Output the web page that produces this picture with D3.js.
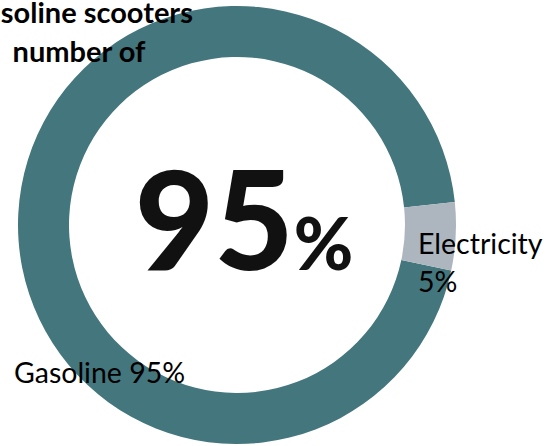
<!DOCTYPE html>
<html>
<head>
<meta charset="utf-8">
<script src="https://d3js.org/d3.v7.min.js"></script>
<style>
body { margin: 0; background: #fff; }
svg { display: block; font-family: Lato, "Open Sans", sans-serif; }
</style>
</head>
<body>
<svg id="chart" width="549" height="446"></svg>
<script>
// data
const categories = ["Gasoline", "Electricity"];
const values = [95, 5];
const titleLines = ["Gasoline scooters", "number of"];
const bigValue = "95";

const svg = d3.select("#chart");

// ring geometry
const cx = 237, cy = 225;
const outerR = 219, innerR = 168;

const color = d3.scaleOrdinal()
  .domain(categories)
  .range(["#43767d", "#adb5bf"]);

// gasoline first, starting just below the 3 o'clock line
const pie = d3.pie()
  .sort(null)
  .startAngle(102 * Math.PI / 180)
  .endAngle(462 * Math.PI / 180);

const arcs = pie(values);

const arc = d3.arc().innerRadius(innerR).outerRadius(outerR);

const g = svg.append("g").attr("transform", "translate(" + cx + "," + cy + ")");

g.selectAll("path.slice")
  .data(arcs)
  .enter()
  .append("path")
  .attr("class", "slice")
  .attr("d", arc)
  .attr("fill", (d, i) => color(categories[i]));

// big center number
const big = g.append("text")
  .attr("x", 7)
  .attr("y", 45)
  .attr("text-anchor", "middle")
  .attr("fill", "#111");
big.append("tspan")
  .attr("font-size", 137)
  .attr("font-weight", 900)
  .text(bigValue);
big.append("tspan")
  .attr("font-size", 72)
  .attr("font-weight", 900)
  .text("%");

// slice labels
const labelFont = 28.5;
// electricity: two lines right of the ring
const eLab = svg.append("text")
  .attr("font-size", labelFont)
  .attr("fill", "#000");
eLab.append("tspan").attr("x", 418).attr("y", 254).text(categories[1]);
eLab.append("tspan").attr("x", 418).attr("y", 292).text(values[1] + "%");

// gasoline: one line lower left
svg.append("text")
  .attr("x", 14)
  .attr("y", 383)
  .attr("font-size", labelFont)
  .attr("fill", "#000")
  .text(categories[0] + " " + values[0] + "%");

// title (cut off at top-left like the source)
svg.append("g")
  .selectAll("text")
  .data(titleLines)
  .enter()
  .append("text")
  .attr("x", 79)
  .attr("y", (d, i) => 23 + i * 39)
  .attr("text-anchor", "middle")
  .attr("font-size", 29)
  .attr("font-weight", 700)
  .attr("fill", "#000")
  .text(d => d);
</script>
</body>
</html>
